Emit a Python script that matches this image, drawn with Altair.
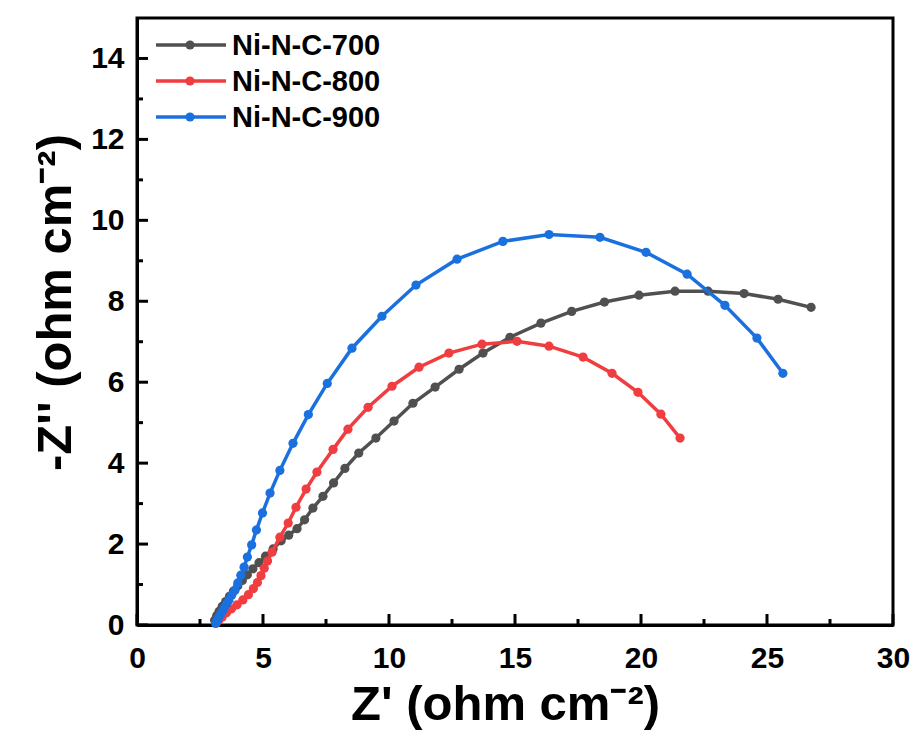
import altair as alt
import pandas as pd

names = ["Ni-N-C-700", "Ni-N-C-800", "Ni-N-C-900"]
colors = ["#505050", "#ef3d40", "#1b70df"]

x700 = [3.08, 3.16, 3.26, 3.38, 3.52, 3.67, 3.83, 4.00, 4.18, 4.38, 4.60, 4.84, 5.10,
        5.40, 5.72, 6.02, 6.35, 6.65, 6.98, 7.38, 7.80, 8.25, 8.80, 9.48, 10.20, 10.95,
        11.83, 12.78, 13.73, 14.80, 16.03, 17.25, 18.55, 19.92, 21.35, 22.66, 24.09,
        25.44, 26.75]
y700 = [0.12, 0.23, 0.34, 0.46, 0.58, 0.71, 0.84, 0.97, 1.10, 1.24, 1.39, 1.54, 1.70,
        1.88, 2.08, 2.22, 2.38, 2.60, 2.89, 3.18, 3.51, 3.87, 4.25, 4.62, 5.04, 5.48,
        5.88, 6.32, 6.72, 7.11, 7.46, 7.75, 7.98, 8.15, 8.25, 8.25, 8.19, 8.05, 7.85]

x800 = [3.15, 3.25, 3.38, 3.55, 3.75, 3.97, 4.20, 4.42, 4.62, 4.78, 4.92, 5.05, 5.18,
        5.36, 5.67, 6.00, 6.31, 6.71, 7.14, 7.78, 8.37, 9.17, 10.12, 11.19, 12.38, 13.69,
        15.08, 16.35, 17.70, 18.85, 19.88, 20.79, 21.55]
y800 = [0.05, 0.12, 0.20, 0.30, 0.40, 0.50, 0.62, 0.75, 0.90, 1.05, 1.22, 1.40, 1.58,
        1.80, 2.17, 2.52, 2.91, 3.36, 3.78, 4.34, 4.84, 5.38, 5.90, 6.37, 6.72, 6.94,
        7.01, 6.89, 6.62, 6.22, 5.75, 5.21, 4.62]

x900 = [3.12, 3.17, 3.23, 3.30, 3.38, 3.46, 3.55, 3.65, 3.76, 3.89, 4.00, 4.12, 4.25,
        4.38, 4.55, 4.74, 4.98, 5.28, 5.67, 6.19, 6.80, 7.55, 8.53, 9.72, 11.07, 12.70,
        14.52, 16.35, 18.37, 20.20, 21.83, 23.33, 24.60, 25.63]
y900 = [0.04, 0.10, 0.17, 0.25, 0.33, 0.42, 0.52, 0.62, 0.74, 0.86, 1.04, 1.23, 1.43,
        1.68, 1.98, 2.35, 2.77, 3.26, 3.82, 4.49, 5.20, 5.97, 6.84, 7.63, 8.40, 9.04,
        9.48, 9.65, 9.58, 9.21, 8.67, 7.90, 7.09, 6.22]

x_major = [0, 5, 10, 15, 20, 25, 30]
x_minor = [2.5, 7.5, 12.5, 17.5, 22.5, 27.5]
y_major = [0, 2, 4, 6, 8, 10, 12, 14]
y_minor = [1, 3, 5, 7, 9, 11, 13]

W, H = 756, 607
FONT = "Liberation Sans"

xs = alt.Scale(domain=[0, 30], nice=False, zero=False)
ys = alt.Scale(domain=[0, 15], nice=False, zero=False)

xaxis = alt.Axis(values=x_major, title="Z' (ohm cm⁻²)", tickSize=0, grid=False,
                 labelPadding=18, titleX=W / 2 - 10, titleY=79,
                 titleBaseline="middle")
yaxis = alt.Axis(values=y_major, title="-Z'' (ohm cm⁻²)", tickSize=0, grid=False,
                 labelPadding=13, titleX=-82, titleY=284, titleBaseline="middle",
                 titleAngle=-90, titleAlign="center")

X = alt.X("x:Q", scale=xs, axis=xaxis)
Y = alt.Y("y:Q", scale=ys, axis=yaxis)

series = [(names[0], colors[0], x700, y700),
          (names[1], colors[1], x800, y800),
          (names[2], colors[2], x900, y900)]

layers = []
for name, col, xv, yv in series:
    df = pd.DataFrame({"x": xv, "y": yv, "i": list(range(len(xv))), "s": name})
    line = alt.Chart(df).mark_line(color=col, strokeWidth=3.5).encode(
        x=X, y=Y, order="i:Q")
    pts = alt.Chart(df).mark_circle(color=col, size=85, opacity=1).encode(x=X, y=Y)
    layers += [line, pts]

# inward ticks
def xticks(vals, length):
    d = pd.DataFrame({"x": vals})
    return alt.Chart(d).mark_rule(color="black", strokeWidth=3).encode(
        x=X, y=alt.value(H), y2=alt.value(H - length))

def yticks(vals, length):
    d = pd.DataFrame({"y": vals})
    return alt.Chart(d).mark_rule(color="black", strokeWidth=3).encode(
        y=Y, x=alt.value(0), x2=alt.value(length))

layers += [xticks(x_major, 11), xticks(x_minor, 6), yticks(y_major, 11), yticks(y_minor, 6)]

# legend
for k, (name, col, _, _) in enumerate(series):
    yy = 27 + 36 * k
    d = pd.DataFrame({"s": [name]})
    layers.append(alt.Chart(d).mark_rule(color=col, strokeWidth=3.5).encode(
        x=alt.value(19), x2=alt.value(89), y=alt.value(yy)))
    layers.append(alt.Chart(d).mark_circle(color=col, size=85, opacity=1).encode(
        x=alt.value(53), y=alt.value(yy)))
    layers.append(alt.Chart(d).mark_text(
        align="left", baseline="middle", font=FONT, fontWeight="bold", fontSize=29,
        color="black").encode(x=alt.value(95), y=alt.value(yy + 1), text="s:N"))

chart = alt.layer(*layers).properties(
    width=W, height=H,
    background="white",
    autosize=alt.AutoSizeParams(type="none"),
    padding={"left": 137, "top": 18, "right": 23, "bottom": 115},
).configure_view(stroke="black", strokeWidth=3).configure_axis(
    domainColor="black", domainWidth=3,
    labelFont=FONT, labelFontWeight="bold", labelFontSize=30, labelColor="black",
    titleFont=FONT, titleFontWeight="bold", titleFontSize=49, titleColor="black",
    labelFlush=False, labelOverlap=False,
)

chart.save("out.html", embed_options={"renderer": "svg", "actions": False})
